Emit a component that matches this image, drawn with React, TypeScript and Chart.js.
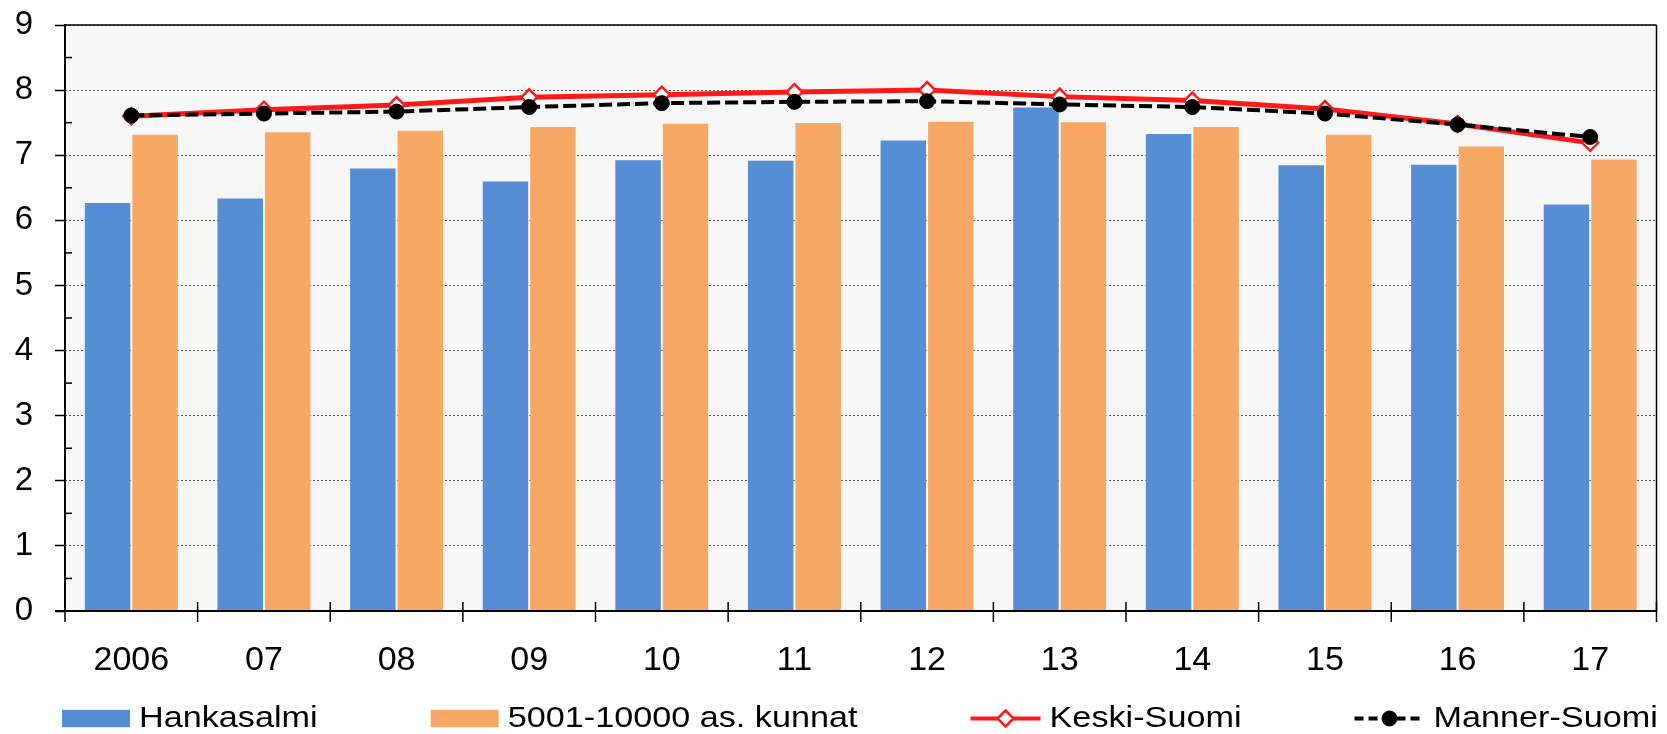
import React, { useEffect, useRef } from "react";
import { Chart, registerables } from "chart.js";

Chart.register(...registerables);

const categories = ["2006", "07", "08", "09", "10", "11", "12", "13", "14", "15", "16", "17"];
const hankasalmi = [6.28, 6.35, 6.81, 6.61, 6.94, 6.93, 7.24, 7.75, 7.34, 6.86, 6.87, 6.26];
const kunnat = [7.33, 7.37, 7.39, 7.45, 7.5, 7.51, 7.53, 7.52, 7.45, 7.33, 7.15, 6.95];
const keskiSuomi = [7.6, 7.7, 7.77, 7.89, 7.93, 7.97, 8.0, 7.9, 7.84, 7.71, 7.48, 7.19];
const mannerSuomi = [7.61, 7.64, 7.67, 7.74, 7.8, 7.82, 7.83, 7.78, 7.74, 7.64, 7.47, 7.28];
const seriesLabels = ["Hankasalmi", "5001-10000 as. kunnat", "Keski-Suomi", "Manner-Suomi"];
const yMin = 0;
const yMax = 9;
const yStep = 1;

const FONT = '"Liberation Sans", Arial, Helvetica, sans-serif';
const BLUE = "#558ed5";
const ORANGE = "#f7a864";
const RED = "#ff1a1a";
const BLACK = "#000000";

function seg(ctx: CanvasRenderingContext2D, x1: number, y1: number, x2: number, y2: number) {
  ctx.beginPath();
  ctx.moveTo(x1, y1);
  ctx.lineTo(x2, y2);
  ctx.stroke();
}

function drawMarker(ctx: CanvasRenderingContext2D, style: string, x: number, y: number, r: number, fill: string, stroke: string, bw: number) {
  ctx.save();
  ctx.setLineDash([]);
  ctx.beginPath();
  if (style === "rectRot") {
    ctx.moveTo(x, y - r);
    ctx.lineTo(x + r, y);
    ctx.lineTo(x, y + r);
    ctx.lineTo(x - r, y);
    ctx.closePath();
  } else {
    ctx.arc(x, y, r, 0, Math.PI * 2);
  }
  ctx.fillStyle = fill;
  ctx.fill();
  ctx.lineWidth = bw;
  ctx.strokeStyle = stroke;
  ctx.stroke();
  ctx.restore();
}

const framePlugin = {
  id: "frame",
  beforeDraw(chart: any) {
    const { ctx, chartArea: a } = chart;
    ctx.save();
    ctx.fillStyle = "#f7f7f7";
    ctx.fillRect(a.left, a.top, a.right - a.left, a.bottom - a.top);
    ctx.restore();
  },
  afterDatasetsDraw(chart: any) {
    const { ctx, chartArea: a, scales } = chart;
    const x = scales.x;
    const y = scales.y;
    ctx.save();
    ctx.strokeStyle = "#000";
    ctx.setLineDash([]);
    ctx.lineWidth = 1.5;
    seg(ctx, a.left, a.top, a.right, a.top);
    seg(ctx, a.right, a.top, a.right, a.bottom);
    ctx.lineWidth = 2;
    seg(ctx, a.left, a.top - 1, a.left, a.bottom + 1);
    seg(ctx, a.left - 10, a.bottom, a.right, a.bottom);
    // minor y ticks inside
    ctx.lineWidth = 1.5;
    for (let v = yMin + yStep / 2; v < yMax; v += yStep) {
      const py = y.getPixelForValue(v);
      seg(ctx, a.left, py, a.left + 7, py);
    }
    // x ticks at category boundaries, crossing the axis
    const n = categories.length;
    const w = x.getPixelForValue(1) - x.getPixelForValue(0);
    ctx.lineWidth = 1.5;
    for (let i = 0; i <= n; i++) {
      const px = Math.min(x.getPixelForValue(i) - w / 2, a.right);
      seg(ctx, px, a.bottom - 9, px, a.bottom + 11);
    }
    ctx.restore();
  },
  afterDraw(chart: any) {
    const { ctx, chartArea: a } = chart;
    const sx = 1.14;
    const cy = chart.height - 15.5;
    const baseline = chart.height - 7;
    ctx.save();
    ctx.font = `30px ${FONT}`;
    ctx.textBaseline = "alphabetic";
    ctx.textAlign = "left";
    let x = a.left - 3;
    chart.data.datasets.forEach((ds: any) => {
      let sampleW = 68;
      if (ds.type === "line") {
        sampleW = 70;
        ctx.save();
        ctx.strokeStyle = ds.borderColor;
        ctx.lineWidth = 4;
        ctx.setLineDash(ds.borderDash && ds.borderDash.length ? [9, 5] : []);
        seg(ctx, x, cy, x + sampleW, cy);
        ctx.restore();
        drawMarker(ctx, ds.pointStyle, x + sampleW / 2, cy, ds.pointRadius, ds.pointBackgroundColor, ds.pointBorderColor, ds.pointBorderWidth);
      } else {
        ctx.fillStyle = ds.backgroundColor;
        ctx.fillRect(x, cy - 8.7, sampleW, 17.4);
      }
      const tx = x + sampleW + 9;
      ctx.save();
      ctx.translate(tx, baseline);
      ctx.scale(sx, 1);
      ctx.fillStyle = "#000";
      ctx.fillText(ds.label, 0, 0);
      ctx.restore();
      x = tx + ctx.measureText(ds.label).width * sx + 113;
    });
    ctx.restore();
  },
};

export default function App() {
  const canvasRef = useRef<HTMLCanvasElement | null>(null);

  useEffect(() => {
    if (!canvasRef.current) return;
    Chart.defaults.font.family = FONT;
    Chart.defaults.color = "#000";
    const chart = new Chart(canvasRef.current, {
      type: "bar",
      data: {
        labels: categories,
        datasets: [
          {
            type: "bar",
            label: seriesLabels[0],
            data: hankasalmi,
            backgroundColor: BLUE,
            borderColor: "rgba(255,255,255,0.35)",
            borderWidth: 1,
            categoryPercentage: 0.716,
            barPercentage: 1,
            order: 2,
          },
          {
            type: "bar",
            label: seriesLabels[1],
            data: kunnat,
            backgroundColor: ORANGE,
            borderColor: "rgba(255,255,255,0.35)",
            borderWidth: 1,
            categoryPercentage: 0.716,
            barPercentage: 1,
            order: 3,
          },
          {
            type: "line",
            label: seriesLabels[2],
            data: keskiSuomi,
            borderColor: RED,
            backgroundColor: RED,
            borderWidth: 5,
            tension: 0,
            pointStyle: "rectRot",
            pointRadius: 8,
            pointBackgroundColor: "#ffffff",
            pointBorderColor: RED,
            pointBorderWidth: 2.5,
            order: 1,
          } as any,
          {
            type: "line",
            label: seriesLabels[3],
            data: mannerSuomi,
            borderColor: BLACK,
            backgroundColor: BLACK,
            borderWidth: 4,
            borderDash: [13, 5],
            tension: 0,
            pointStyle: "circle",
            pointRadius: 7.5,
            pointBackgroundColor: BLACK,
            pointBorderColor: BLACK,
            pointBorderWidth: 1,
            order: 0,
          } as any,
        ],
      },
      options: {
        animation: false,
        responsive: true,
        maintainAspectRatio: false,
        layout: { padding: { left: 0, right: 9, top: 25, bottom: 53 } },
        plugins: {
          legend: { display: false },
          tooltip: { enabled: false },
          title: { display: false },
        },
        scales: {
          x: {
            grid: { display: false },
            border: { display: false },
            ticks: { font: { size: 34 }, color: "#000", padding: 21, maxRotation: 0, autoSkip: false },
            afterFit: (s: any) => {
              s.height = 70;
              s.paddingLeft = 0;
              s.paddingRight = 0;
            },
          },
          y: {
            min: yMin,
            max: yMax,
            grid: {
              color: "#555",
              lineWidth: 1,
              tickLength: 10,
              tickColor: "#000",
              tickWidth: 1.5,
              tickBorderDash: [],
            },
            border: { display: false, dash: [2, 2] },
            ticks: { stepSize: yStep, font: { size: 33 }, color: "#000", padding: 22 },
            afterFit: (s: any) => {
              s.width = 65;
              s.paddingTop = 0;
              s.paddingBottom = 0;
            },
          },
        },
      },
      plugins: [framePlugin],
    });
    return () => chart.destroy();
  }, []);

  return (
    <div style={{ position: "fixed", left: 0, top: 0, width: 1667, height: 734, background: "#fff" }}>
      <canvas ref={canvasRef} />
    </div>
  );
}
